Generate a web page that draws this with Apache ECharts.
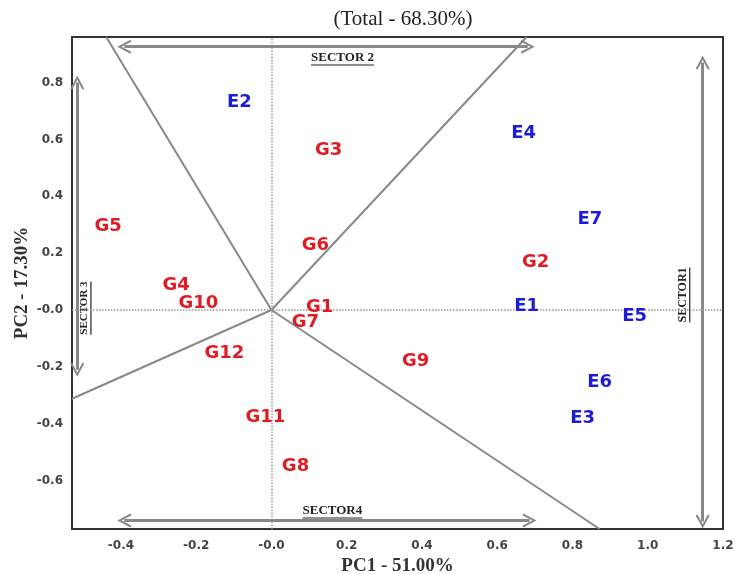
<!DOCTYPE html>
<html>
<head>
<meta charset="utf-8">
<script src="https://cdn.jsdelivr.net/npm/echarts@6/dist/echarts.min.js"></script>
<style>
  html, body { margin: 0; padding: 0; background: #fff; }
  #chart { width: 735px; height: 574px; }
</style>
</head>
<body>
<div id="chart"></div>
<script>
// GGE biplot - which-won-where view
const genotypes = ["G1", "G2", "G3", "G4", "G5", "G6", "G7", "G8", "G9", "G10", "G11", "G12"];
const genoPC1 = [0.128, 0.702, 0.152, -0.253, -0.434, 0.117, 0.090, 0.064, 0.383, -0.194, -0.016, -0.125];
const genoPC2 = [0.011, 0.168, 0.561, 0.088, 0.295, 0.228, -0.042, -0.551, -0.182, 0.025, -0.379, -0.154];

const environments = ["E1", "E2", "E3", "E4", "E5", "E6", "E7"];
const envPC1 = [0.678, -0.085, 0.827, 0.670, 0.965, 0.872, 0.846];
const envPC2 = [0.014, 0.730, -0.382, 0.621, -0.021, -0.256, 0.319];

// polygon rays from origin to plot border
const rayEnds = [[-0.439, 0.96], [0.678, 0.96], [-0.53, -0.312], [0.872, -0.77]];

// sector arrows [from, to]
const sectorArrows = [
  [[-0.391, 0.926], [0.681, 0.926]],
  [[-0.391, -0.740], [0.686, -0.740]],
  [[-0.516, -0.21], [-0.516, 0.80]],
  [[1.146, -0.744], [1.146, 0.87]]
];
const sectorLabels = [
  { text: "SECTOR 2", at: [0.189, 0.888], rot: 0, size: 13 },
  { text: "SECTOR4", at: [0.162, -0.705], rot: 0, size: 13 },
  { text: "SECTOR 3", at: [-0.497, 0.007], rot: Math.PI / 2, size: 11 },
  { text: "SECTOR1", at: [1.093, 0.053], rot: Math.PI / 2, size: 12 }
];

const xTicks = [-0.4, -0.2, 0, 0.2, 0.4, 0.6, 0.8, 1.0, 1.2];
const yTicks = [-0.6, -0.4, -0.2, 0, 0.2, 0.4, 0.6, 0.8];

const fmt = v => (Math.abs(v) < 1e-9 ? "-0.0" : v.toFixed(1));
const chevron = "path://M0,10 L5,0 L10,10 L8.6,10.6 L5,3.2 L1.4,10.6 Z";

const chart = echarts.init(document.getElementById("chart"));

const labelSeries = (names, xs, ys, color) => ({
  type: "scatter",
  data: names.map((n, i) => ({ name: n, value: [xs[i], ys[i]] })),
  symbolSize: 1,
  itemStyle: { color: "transparent" },
  label: {
    show: true,
    position: "inside",
    formatter: "{b}",
    color: color,
    opacity: 1,
    fontFamily: "DejaVu Sans",
    fontWeight: "bold",
    fontSize: 18
  },
  silent: true,
  z: 5
});

chart.setOption({
  animation: false,
  title: {
    text: "(Total - 68.30%)",
    left: 398,
    textAlign: "center",
    top: 4,
    textStyle: { fontFamily: "Liberation Serif", fontSize: 21, fontWeight: "normal", color: "#222" }
  },
  grid: {
    left: 72, right: 12, top: 37, bottom: 45,
    outerBoundsMode: "none",
    show: true, borderColor: "#333", borderWidth: 2
  },
  xAxis: {
    type: "value",
    min: -0.53, max: 1.2,
    name: "PC1 - 51.00%",
    nameLocation: "middle",
    nameGap: 23,
    nameTextStyle: { fontFamily: "Liberation Serif", fontSize: 19, fontWeight: "bold", color: "#333" },
    axisLine: { show: false },
    axisTick: { show: false },
    splitLine: { show: false },
    axisLabel: {
      customValues: xTicks, formatter: fmt, margin: 11,
      color: "#444", fontFamily: "DejaVu Sans", fontSize: 12, fontWeight: "bold",
      showMinLabel: true, showMaxLabel: true
    }
  },
  yAxis: {
    type: "value",
    min: -0.77, max: 0.96,
    name: "PC2 - 17.30%",
    nameLocation: "middle",
    nameGap: 40,
    nameMoveOverlap: false,
    nameTextStyle: { fontFamily: "Liberation Serif", fontSize: 19, fontWeight: "bold", color: "#333" },
    axisLine: { show: false },
    axisTick: { show: false },
    splitLine: { show: false },
    axisLabel: {
      customValues: yTicks, formatter: fmt, margin: 9,
      color: "#444", fontFamily: "DejaVu Sans", fontSize: 12, fontWeight: "bold"
    }
  },
  series: [
    {
      type: "line",
      data: [],
      markLine: {
        silent: true,
        symbol: "none",
        label: { show: false },
        lineStyle: { color: "#999", type: "dotted", width: 1.5 },
        data: [{ xAxis: 0 }, { yAxis: 0 }]
      }
    },
    ...rayEnds.map(end => ({
      type: "line",
      data: [[0, 0], end],
      showSymbol: false,
      symbol: "none",
      silent: true,
      lineStyle: { color: "#888", width: 2 },
      z: 3
    })),
    {
      type: "lines",
      coordinateSystem: "cartesian2d",
      data: sectorArrows.map(a => ({ coords: [a[0], a[1]] })),
      symbol: [chevron, chevron],
      symbolSize: 14,
      lineStyle: { color: "#888", width: 3, opacity: 1 },
      itemStyle: { color: "#888" },
      silent: true,
      z: 2
    },
    labelSeries(genotypes, genoPC1, genoPC2, "#e01b24"),
    labelSeries(environments, envPC1, envPC2, "#1c1cd8")
  ]
});

// underlined sector captions
const ctx = document.createElement("canvas").getContext("2d");
chart.setOption({
  graphic: sectorLabels.map(s => {
    const p = chart.convertToPixel({ gridIndex: 0 }, s.at);
    const font = "bold " + s.size + "px 'Liberation Serif'";
    ctx.font = font;
    const w = ctx.measureText(s.text).width;
    return {
      type: "group",
      x: p[0], y: p[1],
      rotation: s.rot,
      silent: true,
      children: [
        {
          type: "text",
          style: {
            text: s.text, x: 0, y: 0, align: "center", verticalAlign: "middle",
            font: font, fill: "#222"
          }
        },
        {
          type: "line",
          shape: { x1: -w / 2, y1: s.size / 2 + 1, x2: w / 2, y2: s.size / 2 + 1 },
          style: { stroke: "#222", lineWidth: 1.2 }
        }
      ]
    };
  })
});
</script>
</body>
</html>
